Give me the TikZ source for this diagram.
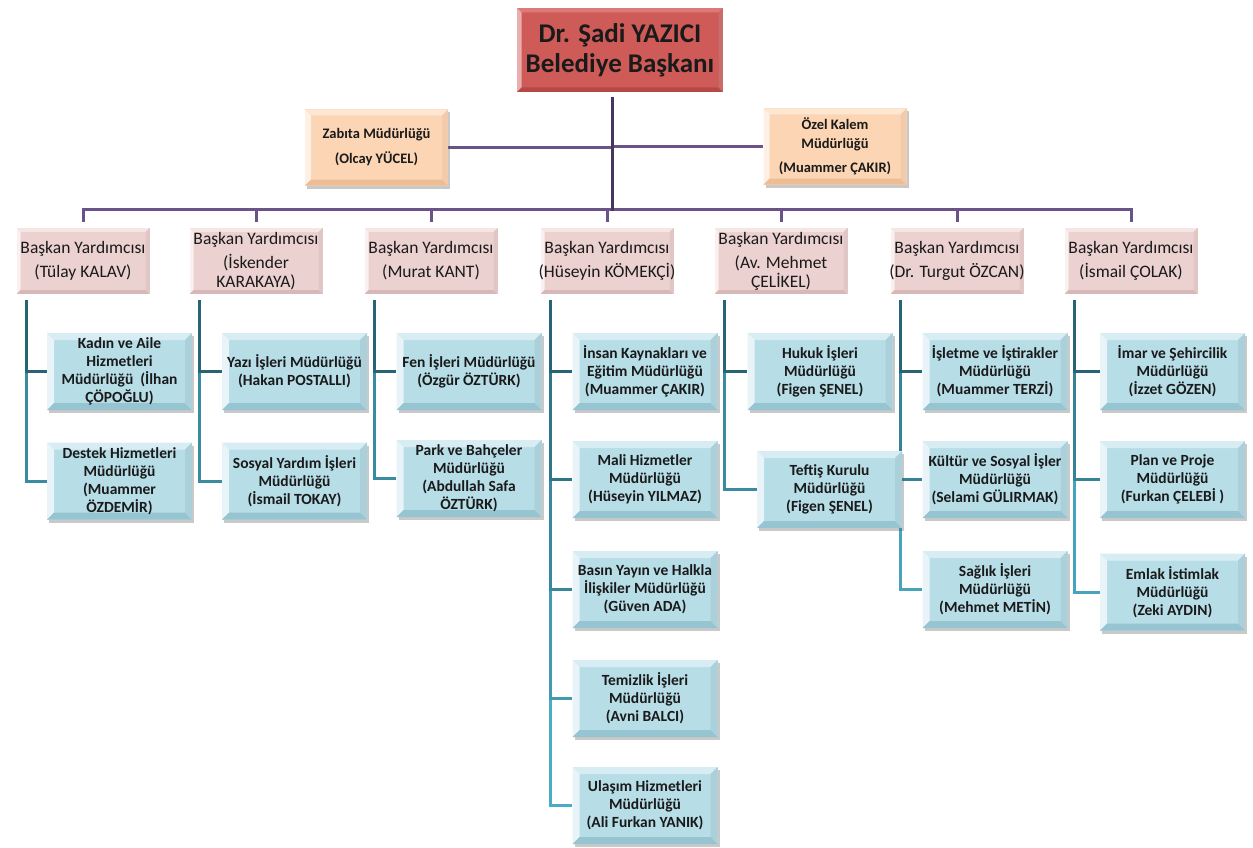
\documentclass[tikz,border=0pt]{standalone}
\usepackage{fontspec}
\setmainfont{Carlito}
\usetikzlibrary{shadows,backgrounds}

\definecolor{baskan}{HTML}{CF5B58}
\definecolor{baskanlt}{HTML}{DB7A78}
\definecolor{baskandk}{HTML}{B84846}
\definecolor{kalem}{HTML}{FCD5B4}
\definecolor{kalemlt}{HTML}{FDE6D2}
\definecolor{kalemdk}{HTML}{EDBE96}
\definecolor{yard}{HTML}{EBD1D0}
\definecolor{yardlt}{HTML}{F5E6E5}
\definecolor{yarddk}{HTML}{D8B8B7}
\definecolor{mud}{HTML}{B7DDE7}
\definecolor{mudlt}{HTML}{D8EDF3}
\definecolor{muddk}{HTML}{96C4D1}
\definecolor{morhat}{HTML}{6A5389}
\definecolor{morkoyu}{HTML}{47365F}
\definecolor{tealdk}{HTML}{215968}
\definecolor{teallt}{HTML}{4BACC6}
\definecolor{yazi}{HTML}{1A1A1A}

%% bevel inside a box: light colour, dark colour, depth
\newcommand{\kabartma}[3]{%
  \fill[#1] (path picture bounding box.north west) -- (path picture bounding box.north east)
    -- ([shift={(-#3,-#3)}]path picture bounding box.north east) -- ([shift={(#3,-#3)}]path picture bounding box.north west) -- cycle;
  \fill[#1!60!white] (path picture bounding box.north west) -- (path picture bounding box.south west)
    -- ([shift={(#3,#3)}]path picture bounding box.south west) -- ([shift={(#3,-#3)}]path picture bounding box.north west) -- cycle;
  \fill[#2] (path picture bounding box.south west) -- (path picture bounding box.south east)
    -- ([shift={(-#3,#3)}]path picture bounding box.south east) -- ([shift={(#3,#3)}]path picture bounding box.south west) -- cycle;
  \fill[#2!80!white] (path picture bounding box.north east) -- (path picture bounding box.south east)
    -- ([shift={(-#3,#3)}]path picture bounding box.south east) -- ([shift={(-#3,-#3)}]path picture bounding box.north east) -- cycle;
}

\tikzset{
  golge/.style={drop shadow={shadow xshift=2pt,shadow yshift=-3pt,opacity=.3,fill=black!70}},
  baskanbox/.style={draw=white,line width=5pt,fill=baskan,minimum width=211pt,minimum height=89pt,
    inner sep=0pt,align=center,text=yazi,font=\fontsize{27}{30}\selectfont\bfseries,golge,
    path picture={\kabartma{baskanlt}{baskandk}{7pt}}},
  kalembox/.style={fill=kalem,minimum width=143pt,minimum height=76pt,inner sep=0pt,align=center,
    text=yazi,font=\fontsize{14.5}{19}\selectfont\bfseries,golge,
    path picture={\kabartma{kalemlt}{kalemdk}{6pt}}},
  yardbox/.style={draw=white,line width=6pt,fill=yard,minimum width=139pt,minimum height=72pt,
    inner sep=0pt,align=center,text=yazi,font=\fontsize{17.5}{19}\selectfont,golge,
    path picture={\kabartma{yardlt}{yarddk}{7pt}}},
  mudbox/.style={fill=mud,minimum width=145pt,minimum height=77pt,inner sep=0pt,align=center,
    text=yazi,font=\fontsize{15.5}{18}\selectfont\bfseries,golge,
    path picture={\kabartma{mudlt}{muddk}{7pt}}},
  morcizgi/.style={draw=morhat,line width=3pt},
  dalcizgi/.style={line width=3pt}
}

\begin{document}
\begin{tikzpicture}[x=1pt,y=-1pt]
  \useasboundingbox (0,0) rectangle (1253,848);
  %% Mayor and staff offices
  \node[baskanbox] (baskan) at (620,50) {Dr. Şadi YAZICI\\Belediye Başkanı};
  \node[kalembox] (zabita) at (376.5,147.5) {Zabıta Müdürlüğü\\[6pt](Olcay YÜCEL)};
  \node[kalembox] (ozel) at (835,146.5) {Özel Kalem\\Müdürlüğü\\[5pt](Muammer ÇAKIR)};
  %% Deputy mayors
  \foreach \n/\x/\t in {1/83/{(Tülay KALAV)}, 2/256/{(İskender\\KARAKAYA)}, 3/431/{(Murat KANT)},
      4/607/{(Hüseyin KÖMEKÇİ)}, 5/781/{(Av. Mehmet\\ÇELİKEL)}, 6/957/{(Dr. Turgut ÖZCAN)}, 7/1131/{(İsmail ÇOLAK)}}
    \node[yardbox] (y\n) at (\x,261) {Başkan Yardımcısı\\[5pt]\t};
  %% Directorates
  \node[mudbox] (m11) at (119.5,371.5) {Kadın ve Aile\\Hizmetleri\\Müdürlüğü~~(İlhan\\ÇÖPOĞLU)};
  \node[mudbox] (m12) at (119.5,481) {Destek Hizmetleri\\Müdürlüğü\\(Muammer\\ÖZDEMİR)};
  \node[mudbox] (m21) at (294.5,371.5) {Yazı İşleri Müdürlüğü\\(Hakan POSTALLI)};
  \node[mudbox] (m22) at (294.5,481) {Sosyal Yardım İşleri\\Müdürlüğü\\(İsmail TOKAY)};
  \node[mudbox] (m31) at (469,371.5) {Fen İşleri Müdürlüğü\\(Özgür ÖZTÜRK)};
  \node[mudbox] (m32) at (469,478.5) {Park ve Bahçeler\\Müdürlüğü\\(Abdullah Safa\\ÖZTÜRK)};
  \node[mudbox] (m41) at (645,371.5) {İnsan Kaynakları ve\\Eğitim Müdürlüğü\\(Muammer ÇAKIR)};
  \node[mudbox] (m42) at (645,479.5) {Mali Hizmetler\\Müdürlüğü\\(Hüseyin YILMAZ)};
  \node[mudbox] (m43) at (645,589.5) {Basın Yayın ve Halkla\\İlişkiler Müdürlüğü\\(Güven ADA)};
  \node[mudbox] (m44) at (645,698.5) {Temizlik İşleri\\Müdürlüğü\\(Avni BALCI)};
  \node[mudbox] (m45) at (645,805.5) {Ulaşım Hizmetleri\\Müdürlüğü\\(Ali Furkan YANIK)};
  \node[mudbox] (m51) at (820,371.5) {Hukuk İşleri\\Müdürlüğü\\(Figen ŞENEL)};
  \node[mudbox] (m52) at (829.5,489.5) {Teftiş Kurulu\\Müdürlüğü\\(Figen ŞENEL)};
  \node[mudbox] (m61) at (995,371.5) {İşletme ve İştirakler\\Müdürlüğü\\(Muammer TERZİ)};
  \node[mudbox] (m62) at (995,479.5) {Kültür ve Sosyal İşler\\Müdürlüğü\\(Selami GÜLIRMAK)};
  \node[mudbox] (m63) at (995,589.5) {Sağlık İşleri\\Müdürlüğü\\(Mehmet METİN)};
  \node[mudbox] (m71) at (1172.5,371.5) {İmar ve Şehircilik\\Müdürlüğü\\(İzzet GÖZEN)};
  \node[mudbox] (m72) at (1172.5,479.5) {Plan ve Proje\\Müdürlüğü\\(Furkan ÇELEBİ )};
  \node[mudbox] (m73) at (1172.5,592) {Emlak İstimlak\\Müdürlüğü\\(Zeki AYDIN)};
  %% Connectors
  \begin{scope}[on background layer]
    \coordinate (merkez) at (612,209);
    \draw[morcizgi] (zabita.east) -- (zabita.east -| merkez);
    \draw[morcizgi] (ozel.west) -- (ozel.west -| merkez);
    \draw[morcizgi] (y1.north) -- (y1.north |- merkez) -- (y7.north |- merkez) -- (y7.north);
    \foreach \n in {2,...,6}
      \draw[morcizgi] (y\n.north) -- (y\n.north |- merkez);
    \draw[morcizgi,draw=morkoyu] (baskan.south -| merkez) -- ([yshift=-1.5pt]merkez);
    \foreach \y/\m/\s in {1/m12/60, 1/m11/15, 2/m22/60, 2/m21/15, 3/m32/60, 3/m31/15,
        4/m45/100, 4/m44/78, 4/m43/56, 4/m42/34, 4/m41/15, 5/m52/60, 5/m51/15,
        6/m63/90, 6/m62/50, 6/m61/15, 7/m73/90, 7/m72/50, 7/m71/15}
      \draw[dalcizgi,draw=teallt!\s!tealdk] ([xshift=-57pt]y\y.south) |- (\m.west);
  \end{scope}
\end{tikzpicture}
\end{document}
